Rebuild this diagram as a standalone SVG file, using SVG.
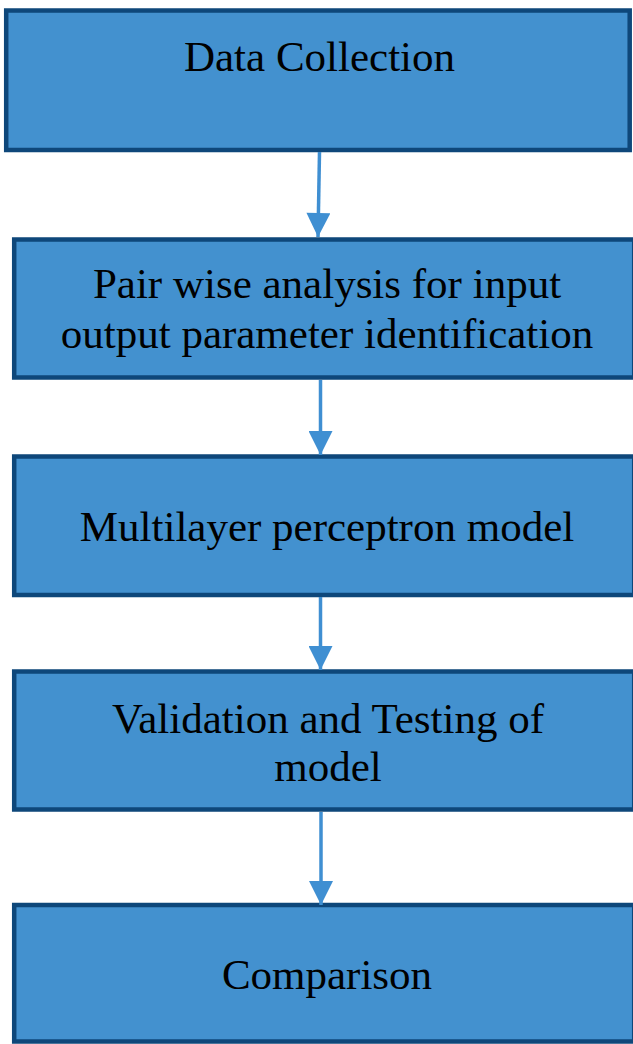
<svg xmlns="http://www.w3.org/2000/svg" width="633" height="1044" viewBox="0 0 633 1044">
<style>
.box{fill:#4391cf;stroke:#0e477a;stroke-width:4.5}
.t{font-family:"Liberation Serif","Times New Roman",serif;font-size:43px;fill:#000;text-anchor:middle}
.c{stroke:#3f8fd2;stroke-width:3.5;fill:none}
</style>
<defs>
<marker id="ah" markerUnits="userSpaceOnUse" markerWidth="26" markerHeight="24" refX="26" refY="13" orient="auto" viewBox="0 0 26 26">
<path d="M0,0 L26,13 L0,26 Z" fill="#3f8fd2"/>
</marker>
</defs>
<rect width="633" height="1044" fill="#fff"/>
<g id="n1"><rect class="box" x="6.2" y="10.5" width="623.5" height="139.5"/><text class="t" x="319.5" y="71">Data Collection</text></g>
<g id="n2"><rect class="box" x="14.2" y="239.5" width="620" height="138"/><text class="t" x="327" y="298">Pair wise analysis for input</text><text class="t" x="327" y="348">output parameter identification</text></g>
<g id="n3"><rect class="box" x="14.2" y="456.5" width="620" height="138.5"/><text class="t" x="327" y="541">Multilayer perceptron model</text></g>
<g id="n4"><rect class="box" x="14.2" y="671.5" width="620" height="138"/><text class="t" x="328" y="733">Validation and Testing of</text><text class="t" x="328" y="781">model</text></g>
<g id="n5"><rect class="box" x="14.2" y="905" width="620" height="136.5"/><text class="t" x="327" y="989">Comparison</text></g>
<g id="connectors">
<path class="c" d="M319.5,152 L318,237" marker-end="url(#ah)"/>
<path class="c" d="M320.5,380 L320.5,455" marker-end="url(#ah)"/>
<path class="c" d="M320.5,597 L320.5,670" marker-end="url(#ah)"/>
<path class="c" d="M321,812 L321,905" marker-end="url(#ah)"/>
</g>
</svg>
